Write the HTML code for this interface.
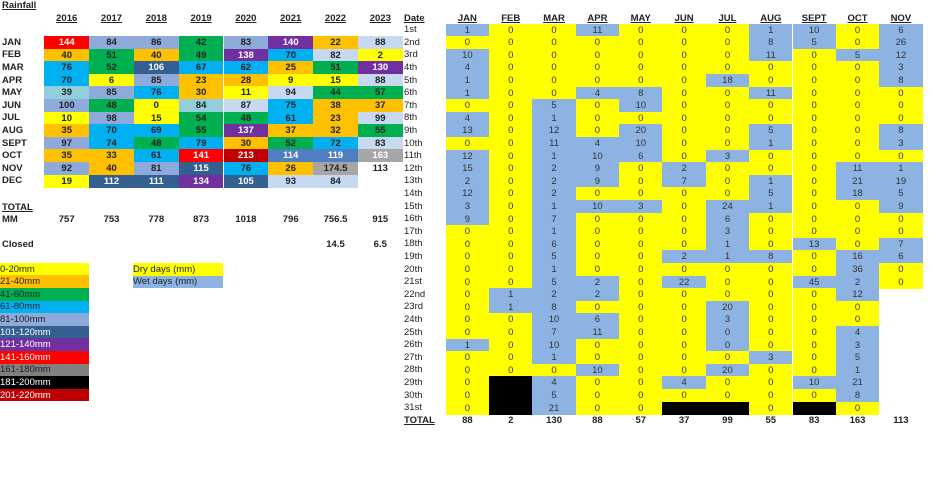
<!DOCTYPE html>
<html><head><meta charset="utf-8">
<style>
body{margin:0;width:940px;height:477px;background:#fff;overflow:hidden;position:relative;font-family:"Liberation Sans",sans-serif;}
.c{position:absolute;box-sizing:border-box;display:flex;align-items:center;justify-content:center;font-size:9.5px;color:#222;white-space:nowrap;}
.b{font-weight:bold;}
.l{justify-content:flex-start;}
.u{text-decoration:underline;}
</style></head><body>
<div id="root"></div>
<script>
const years=["2016","2017","2018","2019","2020","2021","2022","2023"];
const monthsShort=["JAN","FEB","MAR","APR","MAY","JUN","JUL","AUG","SEPT","OCT","NOV","DEC"];
const r2016=[144,40,76,70,39,100,10,35,97,35,92,19];
const r2017=[84,51,52,6,85,48,98,70,74,33,40,112];
const r2018=[86,40,106,85,76,0,15,69,48,61,81,111];
const r2019=[42,49,67,23,30,84,54,55,79,141,115,134];
const r2020=[83,138,62,28,11,87,48,137,30,213,76,105];
const r2021=[140,70,25,9,94,75,61,37,52,114,26,93];
const r2022=[22,82,51,15,44,38,23,32,72,119,174.5,84];
const r2023=[88,2,130,88,57,37,99,55,83,163,113,null];
const totals=["757","753","778","873","1018","796","756.5","915"];
const closed=["","","","","","","14.5","6.5"];
const legendLabels=["0-20mm","21-40mm","41-60mm","61-80mm","81-100mm","101-120mm","121-140mm","141-160mm","161-180mm","181-200mm","201-220mm"];
const dayMonths=["JAN","FEB","MAR","APR","MAY","JUN","JUL","AUG","SEPT","OCT","NOV"];
const dJAN=[1,0,10,4,1,1,0,4,13,0,12,15,2,12,3,9,0,0,0,0,0,0,0,0,0,1,0,0,0,0,0];
const dFEB=[0,0,0,0,0,0,0,0,0,0,0,0,0,0,0,0,0,0,0,0,0,1,1,0,0,0,0,0,null,null,null];
const dMAR=[0,0,0,0,0,0,5,1,12,11,1,2,2,2,1,7,1,6,5,1,5,2,8,10,7,10,1,0,4,5,21];
const dAPR=[11,0,0,0,0,4,0,0,0,4,10,9,9,0,10,0,0,0,0,0,2,2,0,6,11,0,0,10,0,0,0];
const dMAY=[0,0,0,0,0,8,10,0,20,10,6,0,0,0,3,0,0,0,0,0,0,0,0,0,0,0,0,0,0,0,0];
const dJUN=[0,0,0,0,0,0,0,0,0,0,0,2,7,0,0,0,0,0,2,0,22,0,0,0,0,0,0,0,4,0,null];
const dJUL=[0,0,0,0,18,0,0,0,0,0,3,0,0,0,24,6,3,1,1,0,0,0,20,3,0,0,0,20,0,0,null];
const dAUG=[1,8,11,0,0,11,0,0,5,1,0,0,1,5,1,0,0,0,8,0,0,0,0,0,0,0,3,0,0,0,0];
const dSEPT=[10,5,0,0,0,0,0,0,0,0,0,0,0,0,0,0,0,13,0,0,45,0,0,0,0,0,0,0,10,0,null];
const dOCT=[0,0,5,0,0,0,0,0,0,0,0,11,21,18,0,0,0,0,16,36,2,12,0,0,4,3,5,1,21,8,0];
const dNOV=[6,26,12,3,8,0,0,0,8,3,0,1,19,5,9,0,0,7,6,0,0];
const dayTotals=["88","2","130","88","57","37","99","55","83","163","113"];
const dayLabels=["1st","2nd","3rd","4th","5th","6th","7th","8th","9th","10th","11th","12th","13th","14th","15th","16th","17th","18th","19th","20th","21st","22nd","23rd","24th","25th","26th","27th","28th","29th","30th","31st"];

const yearData=[r2016,r2017,r2018,r2019,r2020,r2021,r2022,r2023];
const dayData=[dJAN,dFEB,dMAR,dAPR,dMAY,dJUN,dJUL,dAUG,dSEPT,dOCT,dNOV];
const bucketColors=["#ffff00","#ffc000","#00b050","#00b0f0","#8eaadb","#335f91","#7030a0","#ff0000","#808080","#000000","#c00000"];
const whiteText=[false,false,false,false,false,true,true,true,false,true,true];
const override={"0-4":"#92cddc","3-5":"#92cddc","4-5":"#c6d9f1","5-4":"#c6d9f1","5-11":"#c6d9f1","6-1":"#c6d9f1","6-11":"#c6d9f1","7-0":"#c6d9f1","7-3":"#c6d9f1","7-6":"#c6d9f1","7-8":"#c6d9f1","5-9":"#4f7fc0","6-9":"#4f7fc0","6-10":"#a6a6a6","7-9":"#a6a6a6","7-10":"#ffffff"};
const root=document.getElementById('root');
function cell(x,y,w,h,txt,cls,bg,col,name){
  const d=document.createElement('div');
  d.className='c '+(cls||'');
  d.style.left=x+'px';d.style.top=y+'px';d.style.width=w+'px';d.style.height=h+'px';
  if(bg)d.style.background=bg;
  if(col)d.style.color=col;
  d.textContent=txt;
  
  
  root.appendChild(d);return d;
}
function bucket(v){if(v<=20)return 0;return Math.min(10,Math.floor((v-1)/20));}
// left table
cell(2,0,60,11,"Rainfall","b l u",null,null,"sheet-title");
const LX=44.3,LW=44.8,LY=36,RH=12.6;
years.forEach((y,i)=>cell(LX+i*LW,12,LW,12,y,"b u",null,null,"year-header-"+y));
monthsShort.forEach((m,j)=>cell(2,LY+j*RH,42,RH,m,"b l",null,null,"month-label-"+m.toLowerCase()));
yearData.forEach((arr,i)=>arr.forEach((v,j)=>{
  if(v===null)return;
  const b=bucket(v);const k=i+"-"+j;
  let bg=override[k]||bucketColors[b];
  let col=whiteText[b]?"#fff":"#222";
  if(override[k]){col=(k==="5-9"||k==="6-9"||k==="7-9")?"#fff":"#222";}
  cell(LX+i*LW,LY+j*RH,LW,RH+0.5,String(v),"b",bg,col,"rain-cell-"+years[i]+"-"+monthsShort[j].toLowerCase());
}));
cell(2,201,50,12,"TOTAL","b l u",null,null,"total-label");
cell(2,213,50,12,"MM","b l",null,null,"mm-label");
totals.forEach((t,i)=>cell(LX+i*LW,213,LW,12,t,"b",null,null,"total-"+years[i]));
cell(2,238,60,12,"Closed","b l",null,null,"closed-label");
closed.forEach((t,i)=>{if(t)cell(LX+i*LW,238,LW,12,t,"b",null,null,"closed-"+years[i]);});
legendLabels.forEach((t,i)=>cell(0,262.7+i*12.6,89,12.7,t,"l",bucketColors[i],(i>=5&&i!==8)?"#fff":"#222","legend-"+t));
cell(133,263,90,12.6,"Dry days    (mm)","l","#ffff00",null,"legend-dry-days");
cell(133,275.6,90,12.6,"Wet days    (mm)","l","#8db3e2",null,"legend-wet-days");
// right table
const RX=445.7,RW=43.35,RY=23.5;
cell(404,12,40,12,"Date","b l u",null,null,"date-header");
dayMonths.forEach((m,i)=>cell(RX+i*RW,12,RW,12,m,"b u",null,null,"day-month-header-"+m.toLowerCase()));
dayLabels.forEach((d,j)=>cell(404,RY+j*RH,40,RH,d,"l",null,null,"day-label-"+d));
const wetZero={"6-24":1,"6-25":1};
dayData.forEach((arr,i)=>arr.forEach((v,j)=>{
  let bg,txt;
  if(v===null){bg="#000";txt="";}
  else{bg=(v>0||wetZero[i+"-"+j])?"#8db3e2":"#ffff00";txt=String(v);}
  cell(RX+i*RW,RY+j*RH,RW,RH+0.5,txt,"",bg,"#333","day-cell-"+dayMonths[i].toLowerCase()+"-"+(j+1));
}));
cell(404,414,40,12,"TOTAL","b l u",null,null,"day-total-label");
dayTotals.forEach((t,i)=>cell(RX+i*RW,414,RW,12,t,"b",null,null,"day-total-"+dayMonths[i].toLowerCase()));
</script>
</body></html>
